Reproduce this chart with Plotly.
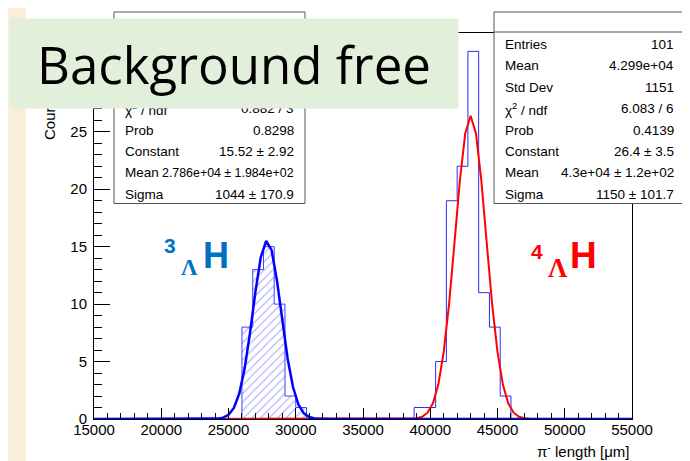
"""
pi- decay length for 3LH and 4LH candidates, ROOT-style histograms with
gaussian fits, a slide-like "Background free" banner on top.
"""

import numpy as np
import plotly.graph_objects as go

# ---------------------------------------------------------------------------
# DATA
# ---------------------------------------------------------------------------
X_RANGE = [15000, 55000]
Y_RANGE = [0, 33.6]
BIN_WIDTH = 800

# 3LH histogram (hatched): bin edges and counts
H3_EDGES = [26000, 26800, 27600, 28400, 29200, 30000, 30800]
H3_COUNTS = [8, 13, 15, 10, 2, 1]

# 4LH histogram (open)
H4_EDGES = [38800, 39600, 40400, 41200, 42000, 42800, 43600, 44400, 45200, 46000]
H4_COUNTS = [1, 1, 5, 19, 22, 32, 11, 8, 2]

# gaussian fit parameters (constant, mean, sigma) from the stat boxes
H3_FIT = (15.52, 27860.0, 1044.0)
H4_FIT = (26.4, 43000.0, 1150.0)
FIT_NPX = 101

X_TICKS = [15000, 20000, 25000, 30000, 35000, 40000, 45000, 50000, 55000]

RIGHT_STATS_LABELS = ["Entries", "Mean", "Std Dev", "χ<sup>2</sup> / ndf",
                      "Prob", "Constant", "Mean", "Sigma"]
RIGHT_STATS_VALUES = ["101", "4.299e+04", "1151", "6.083 / 6", "0.4139",
                      "26.4 ± 3.5", "4.3e+04 ± 1.2e+02", "1150 ± 101.7"]
LEFT_STATS_LABELS = ["χ<sup>2</sup> / ndf", "Prob", "Constant", "Mean", "Sigma"]
LEFT_STATS_VALUES = ["0.882 / 3", "0.8298", "15.52 ± 2.92",
                     "2.786e+04 ± 1.984e+02", "1044 ± 170.9"]

# ---------------------------------------------------------------------------
# GEOMETRY (page pixels; the page body adds an 8px margin round the figure)
# ---------------------------------------------------------------------------
PAGE_W, PAGE_H = 690, 461
BODY = 8
W, H = PAGE_W - BODY, PAGE_H - BODY
L, R, T, B = 94, 632, 33, 419
FONT = "Liberation Sans, Arial, sans-serif"
BLUE = "#0000ff"
RED = "#ff0000"
STAT_SIZE = 13.5


def fx(px):
    return (px - L) / (R - L)


def fy(py):
    return (B - py) / (B - T)


def step_xy(edges, counts):
    xs = [X_RANGE[0], edges[0]] + list(edges) + [X_RANGE[1]]
    ys = [0, 0] + list(counts) + [0, 0]
    return xs, ys


def gaus(params):
    c, m, s = params
    xs = np.linspace(X_RANGE[0], X_RANGE[1], FIT_NPX)
    return xs, c * np.exp(-0.5 * ((xs - m) / s) ** 2)


fig = go.Figure()

# 4LH histogram outline
xs, ys = step_xy(H4_EDGES, H4_COUNTS)
fig.add_trace(go.Scatter(x=xs, y=ys, mode="lines", line=dict(color="#2b2bff", width=1, shape="hv"),
                         hoverinfo="skip"))
# 4LH fit
xs, ys = gaus(H4_FIT)
fig.add_trace(go.Scatter(x=xs, y=ys, mode="lines", line=dict(color=RED, width=2), hoverinfo="skip"))

# 3LH hatched fill
centers = [e + BIN_WIDTH / 2 for e in H3_EDGES[:-1]]
fig.add_trace(go.Bar(
    x=centers, y=H3_COUNTS, width=BIN_WIDTH,
    marker=dict(color="rgba(0,0,0,0)", line=dict(width=0),
                pattern=dict(shape="/", fgcolor="#4a4aff", bgcolor="rgba(0,0,0,0)",
                             size=6, solidity=0.18)),
    hoverinfo="skip",
))
# 3LH outline
xs, ys = step_xy(H3_EDGES, H3_COUNTS)
fig.add_trace(go.Scatter(x=xs, y=ys, mode="lines", line=dict(color="#4040ff", width=1, shape="hv"),
                         hoverinfo="skip"))
# 3LH fit
xs, ys = gaus(H3_FIT)
fig.add_trace(go.Scatter(x=xs, y=ys, mode="lines", line=dict(color=BLUE, width=2.5), hoverinfo="skip"))

# ---------------------------------------------------------------------------
# SHAPES: slide strip, stat boxes
# ---------------------------------------------------------------------------
shapes = [
    dict(type="rect", xref="paper", yref="paper", x0=fx(8), x1=fx(26), y0=fy(PAGE_H), y1=fy(BODY),
         fillcolor="#f9eed8", line=dict(width=0), layer="below"),
]
for x0, x1 in [(114, 305), (494, 684)]:
    shapes.append(dict(type="rect", xref="paper", yref="paper", x0=fx(x0), x1=fx(x1),
                       y0=fy(203.5), y1=fy(12), fillcolor="white",
                       line=dict(color="#555555", width=1), layer="above"))
    shapes.append(dict(type="line", xref="paper", yref="paper", x0=fx(x0), x1=fx(x1),
                       y0=fy(32), y1=fy(32), line=dict(color="#555555", width=1), layer="above"))

annotations = []
ROW_Y0 = 44
ROW_DY = 21.5


def stat_rows(labels, values, x_left, x_right, first_row):
    for i, (lab, val) in enumerate(zip(labels, values)):
        y = ROW_Y0 + (first_row + i) * ROW_DY
        # ROOT shrinks entries that would overflow the box
        vsize = STAT_SIZE if len(val) < 18 else 12.4
        annotations.append(dict(x=fx(x_left), y=fy(y), xref="paper", yref="paper", text=lab,
                                showarrow=False, xanchor="left", yanchor="middle",
                                font=dict(family=FONT, size=STAT_SIZE, color="black")))
        annotations.append(dict(x=fx(x_right), y=fy(y), xref="paper", yref="paper", text=val,
                                showarrow=False, xanchor="right", yanchor="middle",
                                font=dict(family=FONT, size=vsize, color="black")))


stat_rows(RIGHT_STATS_LABELS, RIGHT_STATS_VALUES, 503, 676, 0)
stat_rows(LEFT_STATS_LABELS, LEFT_STATS_VALUES, 123, 296, 3)


def label(txt, px, py, size, color, family=FONT):
    annotations.append(dict(x=fx(px), y=fy(py), xref="paper", yref="paper", text=txt,
                            showarrow=False, xanchor="center", yanchor="middle",
                            font=dict(family=family, size=size, color=color)))


# hypernuclei labels
label("<b>3</b>", 170, 246, 21, "#0070c0")
label("<b>Λ</b>", 189.5, 267, 23, "#0070c0", family="Liberation Serif, serif")
label("<b>H</b>", 216, 255, 36, "#0070c0")
label("<b>4</b>", 537, 251, 21, RED)
label("<b>Λ</b>", 558, 268, 27, RED, family="Liberation Serif, serif")
label("<b>H</b>", 583, 255, 37, RED)

# axis titles
annotations.append(dict(x=fx(632), y=fy(450), xref="paper", yref="paper",
                        text="π<sup>-</sup> length [μm]", showarrow=False,
                        xanchor="right", yanchor="middle",
                        font=dict(family=FONT, size=15, color="black")))
annotations.append(dict(x=fx(49), y=fy(116), xref="paper", yref="paper", text="Counts",
                        showarrow=False, textangle=-90, xanchor="center", yanchor="middle",
                        font=dict(family=FONT, size=15, color="black")))

# banner on top of everything
annotations.append(dict(x=fx(9), y=fy(18), xref="paper", yref="paper", text="Background free",
                        showarrow=False, xanchor="left", yanchor="top", width=448, height=89,
                        align="center", valign="middle", bgcolor="#e2efda", borderpad=0,
                        font=dict(family="Open Sans, sans-serif", size=51, color="black")))

fig.update_layout(
    width=W,
    height=H,
    margin=dict(l=L - BODY, r=PAGE_W - R, t=T - BODY, b=PAGE_H - B),
    paper_bgcolor="white",
    plot_bgcolor="white",
    showlegend=False,
    bargap=0,
    shapes=shapes,
    annotations=annotations,
    xaxis=dict(
        range=X_RANGE, tickvals=X_TICKS, tickformat="d", ticks="inside", ticklen=11,
        tickcolor="black", showline=True, linecolor="black", linewidth=1, mirror=True,
        showgrid=False, zeroline=False, tickfont=dict(family=FONT, size=15, color="black"),
        ticklabelstandoff=-3,
        minor=dict(dtick=1000, ticks="inside", ticklen=6, tickcolor="black", showgrid=False),
    ),
    yaxis=dict(
        range=Y_RANGE, dtick=5, ticks="inside", ticklen=16, tickcolor="black",
        showline=True, linecolor="black", linewidth=1, mirror=True, showgrid=False,
        zeroline=False, tickfont=dict(family=FONT, size=15, color="black"),
        ticklabelstandoff=3,
        minor=dict(dtick=1, ticks="inside", ticklen=8, tickcolor="black", showgrid=False),
    ),
)

fig.write_html("out.html")
